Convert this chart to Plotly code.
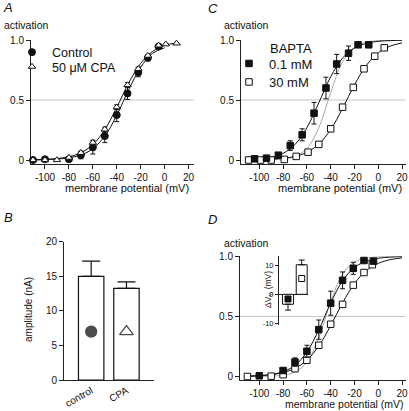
import plotly.graph_objects as go

W, H = 409, 411
FONT = "Liberation Sans, Arial, sans-serif"

# ---------------- data ----------------
volt_ticks = [-100, -80, -60, -40, -20, 0, 20]
volt_ticktext = ["-100", "-80", "-60", "-40", "-20", "0", "20"]
act_ticks = [0, 0.5, 1.0]
act_ticktext = ["0", "0.5", "1.0"]

# Panel A
a_ctrl_v = [-110, -100, -80, -70, -60, -50, -40, -31, -22, -14, -5]
a_ctrl_act = [0.0, 0.006, 0.006, 0.04, 0.105, 0.20, 0.375, 0.555, 0.73, 0.85, 0.945]
a_ctrl_err = [0, 0, 0.005, 0.03, 0.055, 0.055, 0.055, 0.05, 0.036, 0.02, 0.01]
a_cpa_v = [-110, -100, -90, -80, -70, -60, -50, -40, -31, -22, -14, -5, 1, 10]
a_cpa_act = [0.0, 0.0, 0.0, 0.02, 0.06, 0.145, 0.255, 0.44, 0.625, 0.76, 0.87, 0.955, 0.965, 0.972]
a_cpa_err = [0, 0, 0, 0.01, 0.015, 0.02, 0.02, 0.02, 0.02, 0.015, 0.01, 0.01, 0, 0]

curve_v = [-110, -100, -90, -80, -70, -60, -50, -40, -30, -20, -10, 0, 10, 20]
a_ctrl_fit = [0.001, 0.003, 0.008, 0.018, 0.042, 0.094, 0.199, 0.372, 0.586, 0.772, 0.89, 0.935]
a_cpa_fit = [0.002, 0.005, 0.012, 0.027, 0.060, 0.128, 0.253, 0.438, 0.642, 0.805, 0.905, 0.956, 0.975]

# Panel C
c_low_v = [-104, -94, -84, -74, -64, -54, -44, -35, -25, -17, -8]
c_low_act = [0.01, 0.015, 0.04, 0.12, 0.21, 0.39, 0.60, 0.80, 0.89, 0.96, 0.96]
c_low_err = [0, 0, 0.01, 0.04, 0.05, 0.09, 0.09, 0.08, 0.06, 0.015, 0.01]
c_high_v = [-109, -99, -90, -79, -69, -59, -50, -40, -30, -21, -12, -3, 5]
c_high_act = [0.0, 0.0, 0.0, 0.005, 0.03, 0.065, 0.13, 0.26, 0.44, 0.605, 0.76, 0.865, 0.935]
c_low_fit = [0.004, 0.010, 0.023, 0.056, 0.129, 0.269, 0.477, 0.694, 0.849, 0.933, 0.972, 0.989, 0.995, 0.998]
c_gray_fit = [0.0002, 0.0007, 0.0025, 0.009, 0.029, 0.095, 0.269, 0.562, 0.818, 0.94, 0.982, 0.995, 0.998, 1.0]
c_high_fit = [0.001, 0.003, 0.006, 0.014, 0.030, 0.064, 0.132, 0.254, 0.43, 0.627, 0.789, 0.893, 0.949, 0.976]

# Panel D
d_low_v = [-100, -80, -70, -60, -50, -40, -30, -21, -12, -4]
d_low_act = [0.006, 0.05, 0.12, 0.21, 0.39, 0.61, 0.80, 0.90, 0.965, 0.96]
d_low_err = [0, 0.01, 0.035, 0.05, 0.08, 0.10, 0.07, 0.05, 0.01, 0.01]
d_high_v = [-110, -90, -80, -70, -60, -50, -40, -30, -21, -12, -5]
d_high_act = [0.0, 0.003, 0.015, 0.065, 0.135, 0.26, 0.435, 0.60, 0.76, 0.865, 0.93]
d_low_fit = [0.003, 0.007, 0.016, 0.040, 0.093, 0.204, 0.388, 0.612, 0.796, 0.907, 0.96, 0.984, 0.993, 0.997]
d_gray_fit = [0.0003, 0.0009, 0.003, 0.011, 0.037, 0.119, 0.321, 0.622, 0.852, 0.953, 0.986, 0.996, 0.999, 1.0]
d_high_fit = [0.003, 0.007, 0.016, 0.033, 0.068, 0.136, 0.254, 0.424, 0.613, 0.774, 0.881, 0.941, 0.972, 0.987]

# Panel D inset
inset_groups = ["0.1 mM", "30 mM"]
inset_dv = [-3.4, 10.1]
inset_err_plus = [0, 1.6]
inset_err_minus = [2.0, 0]
inset_marker_y = [-1.6, 5.4]
inset_ticks = [-10, 0, 10]
inset_ticktext = ["-10", "0", "10"]

# Panel B
b_groups = ["control", "CPA"]
b_amp = [15.0, 13.25]
b_err = [2.2, 0.95]
b_marker_y = [7.0, 7.0]
b_ticks = [0, 5, 10, 15, 20]

# ---------------- helpers ----------------
def px_x(p):
    return p / W

def px_y(p):
    return 1 - p / H

fig = go.Figure()

BLACK = "#111111"
GRAY = "#a8a8a8"


def curve(x, y, ax, color=BLACK, width=1.0):
    fig.add_trace(go.Scatter(x=x, y=y, mode="lines", line=dict(color=color, width=width, shape="spline"),
                             xaxis=ax[0], yaxis=ax[1], showlegend=False, hoverinfo="skip"))


def points(x, y, ax, symbol, fill, size, err=None, name=None, legend=None):
    eb = None
    if err is not None:
        eb = dict(type="data", array=err, symmetric=True, color=BLACK, thickness=1, width=2.5)
    fig.add_trace(go.Scatter(x=x, y=y, mode="markers", xaxis=ax[0], yaxis=ax[1],
                             marker=dict(symbol=symbol, size=size, color=fill,
                                         line=dict(color=BLACK, width=1)),
                             error_y=eb, cliponaxis=False,
                             name=name, showlegend=name is not None,
                             legend=legend if legend else "legend"))

# Panel A
curve(curve_v[:len(a_ctrl_fit)], a_ctrl_fit, ("x", "y"))
curve(curve_v[:len(a_cpa_fit)], a_cpa_fit, ("x", "y"))
points(a_ctrl_v, a_ctrl_act, ("x", "y"), "circle", BLACK, 7, a_ctrl_err, "Control", "legend")
points(a_cpa_v, a_cpa_act, ("x", "y"), "triangle-up", "white", 6.5, a_cpa_err, "50 \u03bcM CPA", "legend2")

# Panel C
curve(curve_v, c_gray_fit, ("x2", "y2"), GRAY)
curve(curve_v, c_low_fit, ("x2", "y2"))
curve(curve_v, c_high_fit, ("x2", "y2"))
points(c_high_v, c_high_act, ("x2", "y2"), "square", "white", 6.5, None, "30 mM", "legend4")
points(c_low_v, c_low_act, ("x2", "y2"), "square", BLACK, 6.5, c_low_err, "0.1 mM", "legend3")

# Panel D
curve(curve_v, d_gray_fit, ("x4", "y4"), GRAY)
curve(curve_v, d_low_fit, ("x4", "y4"))
curve(curve_v, d_high_fit, ("x4", "y4"))
points(d_high_v, d_high_act, ("x4", "y4"), "square", "white", 6.5)
points(d_low_v, d_low_act, ("x4", "y4"), "square", BLACK, 6.5, d_low_err)

# Inset
fig.add_trace(go.Bar(x=[0, 1], y=inset_dv, xaxis="x5", yaxis="y5", width=0.8,
                     marker=dict(color="white", line=dict(color=BLACK, width=1)),
                     error_y=dict(type="data", array=inset_err_plus, arrayminus=inset_err_minus,
                                  symmetric=False, color=BLACK, thickness=1, width=3),
                     showlegend=False, hoverinfo="skip"))
fig.add_trace(go.Scatter(x=[0, 1], y=inset_marker_y, xaxis="x5", yaxis="y5", mode="markers",
                         marker=dict(symbol="square", size=6, color=[BLACK, "white"],
                                     line=dict(color=BLACK, width=1)),
                         showlegend=False, cliponaxis=False))

# Panel B
fig.add_trace(go.Bar(x=b_groups, y=b_amp, xaxis="x3", yaxis="y3", width=0.72,
                     marker=dict(color="white", line=dict(color=BLACK, width=1.2)),
                     error_y=dict(type="data", array=b_err, arrayminus=[0, 0], symmetric=False,
                                  color=BLACK, thickness=1.2, width=9),
                     showlegend=False, hoverinfo="skip"))
fig.add_trace(go.Scatter(x=b_groups, y=b_marker_y, xaxis="x3", yaxis="y3", mode="markers",
                         marker=dict(symbol=["circle", "triangle-up"], size=[11, 12],
                                     color=["#000000", "white"], line=dict(color="#000000", width=1.3)),
                         showlegend=False, cliponaxis=False))

axis_common = dict(showline=True, linecolor="#222222", linewidth=1, ticks="outside", ticklen=4,
                   tickcolor="#222222", tickwidth=1, showgrid=False, zeroline=False,
                   tickfont=dict(family=FONT, size=10, color=BLACK), fixedrange=True)


def vaxis(rng, dom):
    d = dict(axis_common)
    d.update(range=rng, domain=dom, tickvals=volt_ticks, ticktext=volt_ticktext, tickmode="array")
    return d


def aaxis(rng, dom, anchor):
    d = dict(axis_common)
    d.update(range=rng, domain=dom, tickvals=act_ticks, ticktext=act_ticktext, tickmode="array",
             anchor=anchor)
    return d

layout = dict(
    width=W, height=H, margin=dict(l=0, r=0, t=0, b=0, autoexpand=False),
    paper_bgcolor="white", plot_bgcolor="rgba(0,0,0,0)",
    font=dict(family=FONT, size=10, color=BLACK),
    barmode="overlay",
)

# A
layout["xaxis"] = vaxis([-111.7, 24.6], [px_x(31), px_x(194)])
layout["xaxis"]["anchor"] = "y"
layout["yaxis"] = aaxis([-0.0333, 1.0], [px_y(164), px_y(40)], "x")
# C
layout["xaxis2"] = vaxis([-115.4, 23.3], [px_x(241), px_x(406)])
layout["xaxis2"]["anchor"] = "y2"
layout["yaxis2"] = aaxis([-0.0333, 1.0], [px_y(164), px_y(40)], "x2")
# D
layout["xaxis4"] = vaxis([-116.2, 23.3], [px_x(240), px_x(406)])
layout["xaxis4"]["anchor"] = "y4"
layout["yaxis4"] = aaxis([-0.029, 1.0], [px_y(380), px_y(256.3)], "x4")
# B
bx = dict(axis_common)
bx.update(domain=[px_x(64), px_x(154)], range=[-0.77, 1.78], ticks="", tickangle=-30,
          anchor="y3", type="category")
layout["xaxis3"] = bx
by = dict(axis_common)
by.update(domain=[px_y(380), px_y(241.7)], range=[0, 20], tickvals=b_ticks, anchor="x3")
layout["yaxis3"] = by
# Inset
ix = dict(axis_common)
ix.update(domain=[px_x(279), px_x(308)], range=[-0.657, 1.46], showline=False, ticks="",
          showticklabels=False, anchor="y5")
layout["xaxis5"] = ix
iy = dict(axis_common)
iy.update(domain=[px_y(325), px_y(256)], range=[-10.5, 13.1], tickvals=inset_ticks,
          ticktext=inset_ticktext, ticklen=3, tickfont=dict(family=FONT, size=7.5, color=BLACK),
          zeroline=True, zerolinecolor="#222222", zerolinewidth=1, anchor="x5")
layout["yaxis5"] = iy

# legends
def leg(xp, yp, size=13):
    return dict(x=px_x(xp), y=px_y(yp), xanchor="left", yanchor="middle",
                bgcolor="rgba(0,0,0,0)", borderwidth=0, itemwidth=30,
                font=dict(family=FONT, size=size, color=BLACK))

layout["legend"] = leg(12, 52.5, 12.5)
layout["legend2"] = leg(12, 67, 12.5)
layout["legend3"] = leg(229, 63.5)
layout["legend4"] = leg(229, 82)

fig.update_layout(**layout)

# reference lines at 0.5
for ax in [("x", "y"), ("x2", "y2"), ("x4", "y4")]:
    fig.add_shape(type="line", xref=ax[0] + " domain", yref=ax[1], x0=0, x1=1, y0=0.5, y1=0.5,
                  line=dict(color="#c4c4c4", width=1), layer="below")

annots = []

def txt(x, y, s, size=10.5, xanchor="left", angle=0, italic=False):
    annots.append(dict(x=px_x(x), y=px_y(y), xref="paper", yref="paper", text=s, showarrow=False,
                       xanchor=xanchor, yanchor="middle", textangle=angle,
                       font=dict(family=FONT, size=size, color=BLACK,
                                 style="italic" if italic else "normal")))

# panel letters
txt(1, 8, "A", 13, italic=True)
txt(206, 9, "C", 13, italic=True)
txt(2, 217.5, "B", 13, italic=True)
txt(206, 219, "D", 13, italic=True)
# y titles
txt(2, 25, "activation", 10.5)
txt(222, 25, "activation", 10.5)
txt(222, 243, "activation", 10.5)
# x titles
txt(191, 188, "membrane potential (mV)", 11, xanchor="right")
txt(404, 188, "membrane potential (mV)", 11, xanchor="right")
txt(405, 404, "membrane potential (mV)", 10.5, xanchor="right")
# B y title
txt(28, 310, "amplitude (nA)", 10, xanchor="center", angle=-90)
# inset y title
txt(268, 290, "\u0394V<sub>\u00bd</sub> (mV)", 8.5, xanchor="center", angle=-90)
# legend header
txt(268, 48.5, "BAPTA", 13)

fig.update_layout(annotations=annots)

fig.write_html("out.html", config={"displayModeBar": False},
               post_script="document.body.style.margin='0px';document.body.style.overflow='hidden';")
